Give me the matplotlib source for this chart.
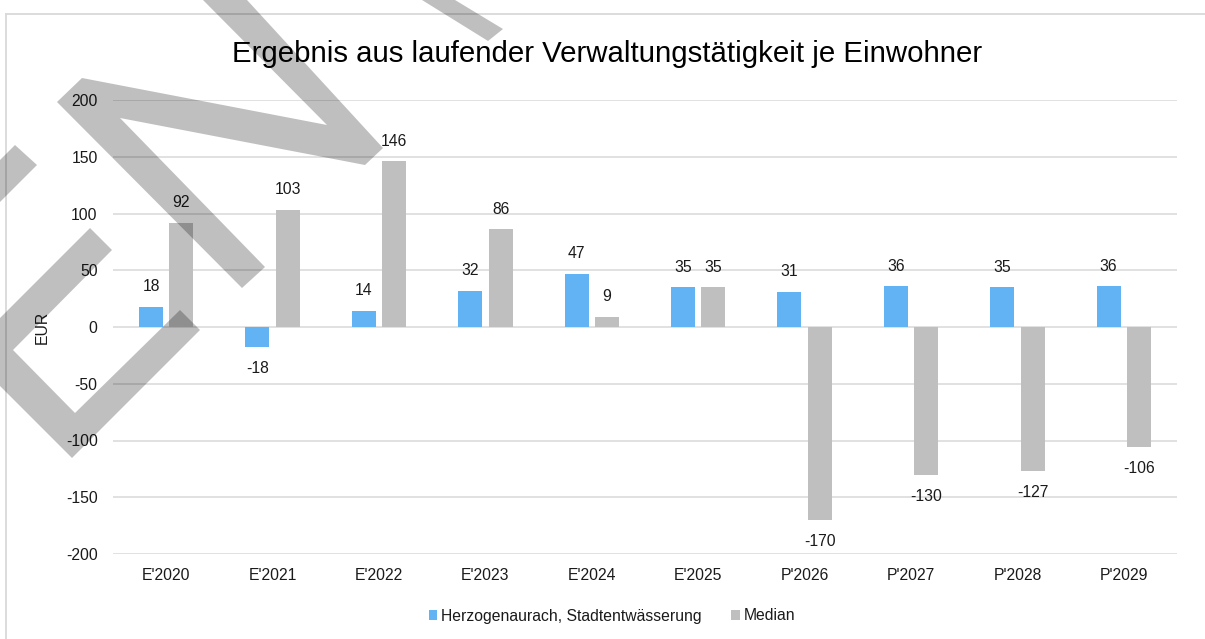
import matplotlib
matplotlib.use("Agg")
import matplotlib.pyplot as plt
from matplotlib.patches import Polygon
from matplotlib.lines import Line2D
import numpy as np

plt.rcParams['font.family'] = ['Liberation Sans', 'DejaVu Sans']

categories = ["E'2020", "E'2021", "E'2022", "E'2023", "E'2024",
              "E'2025", "P'2026", "P'2027", "P'2028", "P'2029"]
herzogenaurach = [18, -18, 14, 32, 47, 35, 31, 36, 35, 36]
median = [92, 103, 146, 86, 9, 35, -170, -130, -127, -106]
yticks = [-200, -150, -100, -50, 0, 50, 100, 150, 200]

title = "Ergebnis aus laufender Verwaltungstätigkeit je Einwohner"
series_names = ["Herzogenaurach, Stadtentwässerung", "Median"]

blue = '#62B3F4'
grey = '#BFBFBF'
gridcol = '#D9D9D9'
txt = '#1a1a1a'
fs = 11.3

W, H = 1205, 639
fig = plt.figure(figsize=(W / 100, H / 100), dpi=100)

def px(x, y):
    # pixel position (from top-left) -> figure fraction
    return (x / W, 1 - y / H)

ax = fig.add_axes([113 / W, 1 - 554 / H, (1177 - 113) / W, (554 - 100) / H])

x = np.arange(len(categories))
bw = 0.226
off = 0.143
ax.bar(x - off, herzogenaurach, bw, color=blue, zorder=3, label=series_names[0])
ax.bar(x + off, median, bw, color=grey, zorder=3, label=series_names[1])

for xs, vals in [(x - off, herzogenaurach), (x + off, median)]:
    for xi, v in zip(xs, vals):
        dy = 14.5 if v >= 0 else -15.5
        ax.annotate(str(v), (xi, v), xytext=(0, dy), textcoords='offset points',
                    ha='center', va='center', fontsize=fs, color=txt)

ax.set_xlim(-0.5, len(categories) - 0.5)
ax.set_ylim(-200, 200)
ax.set_yticks(yticks)
ax.set_yticklabels([str(t) for t in yticks])
ax.set_xticks(x)
ax.set_xticklabels(categories)
ax.tick_params(axis='both', length=0, labelsize=fs, labelcolor=txt)
ax.tick_params(axis='y', pad=11)
ax.tick_params(axis='x', pad=10)
ax.grid(axis='y', color=gridcol, linewidth=1.1, zorder=0)
ax.set_axisbelow(True)
for s in ax.spines.values():
    s.set_visible(False)

ax.set_ylabel("EUR", fontsize=fs, color=txt)
ax.yaxis.set_label_coords((50 - 113) / (1177 - 113), 0.5)

fig.text(607 / W, 1 - 62 / H, title, ha='center', va='baseline',
         fontsize=21.2, color='black')

leg = ax.legend(loc='center', bbox_to_anchor=px(612, 616),
                bbox_transform=fig.transFigure, ncol=2, frameon=False,
                fontsize=fs, handlelength=0.55, handleheight=0.55,
                handletextpad=0.25, columnspacing=1.85)
for t in leg.get_texts():
    t.set_color(txt)

# chart outer border
fig.add_artist(Line2D([px(6, 14)[0], px(6, 639)[0]], [px(6, 14)[1], px(6, 639)[1]],
                      transform=fig.transFigure, color=gridcol, linewidth=1.3))
fig.add_artist(Line2D([px(6, 14)[0], px(1205, 14)[0]], [px(6, 14)[1], px(1205, 14)[1]],
                      transform=fig.transFigure, color=gridcol, linewidth=1.3))

# draft watermark strokes
letter_e = [(200, 330), (180, 310), (75, 413), (13, 350), (112, 250), (90, 228),
            (-9.5, 327.5), (-67.5, 269.5), (37, 165), (15, 145), (-113, 273), (72, 458)]
letter_n = [(242, 288), (57, 102), (82, 78), (327, 125), (203, 0), (247, 0),
            (383, 148), (365, 165), (120, 118), (265, 267)]
letter_t = [(422, 0), (455, 0), (503, 29), (488, 41)]
for shape in [letter_e, letter_n, letter_t]:
    pts = [px(a, b) for a, b in shape]
    fig.add_artist(Polygon(pts, closed=True, transform=fig.transFigure,
                           facecolor='black', edgecolor='none', alpha=0.25, zorder=5))

plt.savefig("out.png", dpi=100)
